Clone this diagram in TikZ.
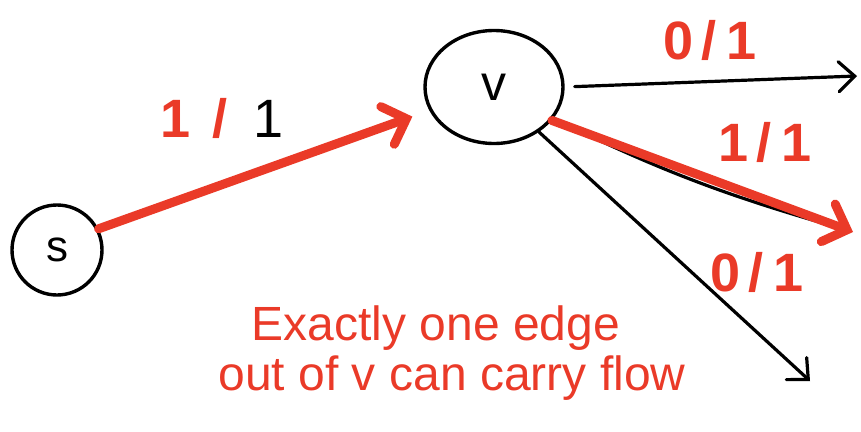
\documentclass[tikz,border=0pt]{standalone}
\usepackage{fontspec}
\setmainfont{Liberation Sans}
\usetikzlibrary{arrows.meta,shapes.geometric}
\definecolor{pen}{RGB}{234,58,40}
\begin{document}
\begin{tikzpicture}[x=1pt,y=-1pt,
  nodeline/.style={draw=black,line width=3.4pt,inner sep=0pt},
  thinedge/.style={draw=black,line width=3.2pt,line cap=round},
  thinarrow/.style={thinedge,-{Straight Barb[length=16pt,width=30pt,line cap=round]}},
  flow/.style={draw=pen,line width=9pt,line cap=round,-{Straight Barb[length=20pt,width=40pt,line cap=round]}},
  lab/.style={font=\fontsize{54}{58}\selectfont\bfseries,text=pen,inner sep=0pt},
  note/.style={font=\fontsize{48}{52}\selectfont,text=pen,inner sep=0pt,anchor=base}]
\useasboundingbox (0,0) rectangle (861,431);
% nodes
\node[nodeline,circle,minimum size=90pt,font=\fontsize{44}{48}\selectfont] (s) at (57,250) {s};
\node[nodeline,ellipse,minimum width=138pt,minimum height=113pt,font=\fontsize{50}{54}\selectfont] (v) at (494,87) {v};
% free ends
\coordinate (t1) at (857,76);
\coordinate (t2) at (853,232);
\coordinate (t2b) at (840,228);
\coordinate (t3) at (810,381);
% edges
\draw[thinarrow,shorten <=10pt] (v.east) -- (t1);
\draw[thinedge] (v.-28) to[bend right=5] (t2b);
\draw[thinarrow] (v.-45) -- (t3);
\draw[flow] (v.-30) -- (t2);
\draw[flow,shorten >=18pt] (s.27) -- (v.200);
% labels
\node[lab] at (222,118) {1\hspace{22pt}/\hspace{26pt}\textcolor{black}{\mdseries 1}};
\node[lab] at (710,40) {0\hspace{8pt}/\hspace{10pt}1};
\node[lab] at (765,142) {1\hspace{8pt}/\hspace{10pt}1};
\node[lab] at (757,272) {0\hspace{8pt}/\hspace{10pt}1};
\node[note] at (436,340) {Exactly one edge};
\node[note] at (452,390) {out of v can carry flow};
\end{tikzpicture}
\end{document}
